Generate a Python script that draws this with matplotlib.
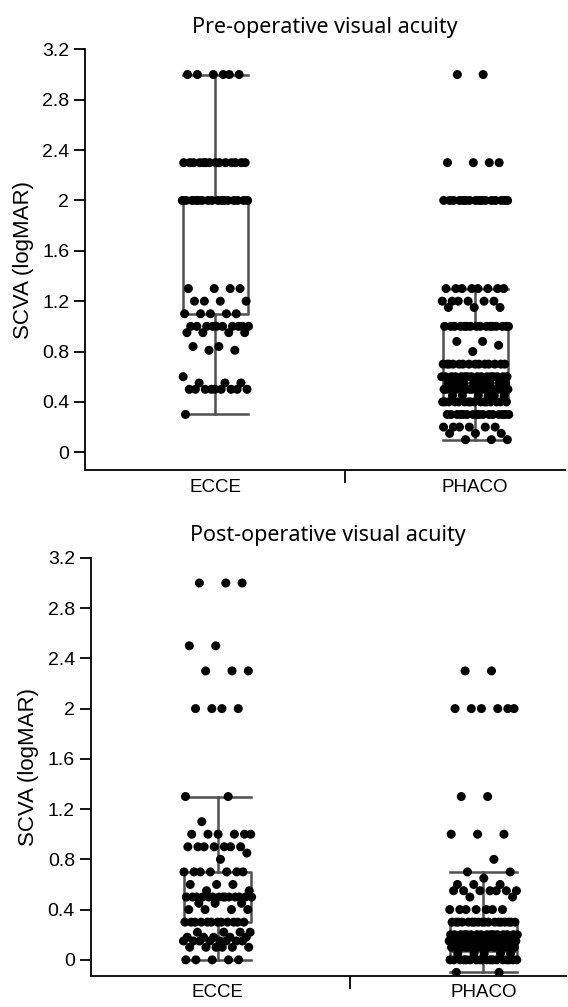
import numpy as np
import matplotlib
matplotlib.use('Agg')
import matplotlib.pyplot as plt

groups = ['ECCE', 'PHACO']
yticks = [0, 0.4, 0.8, 1.2, 1.6, 2, 2.4, 2.8, 3.2]
ytick_labels = ['0', '0.4', '0.8', '1.2', '1.6', '2', '2.4', '2.8', '3.2']

# pre-operative: distinct logMAR values and how many eyes had each
pre_ecce_vals = [3.0, 2.3, 2.0, 1.3, 1.2, 1.1, 1.0, 0.95, 0.84, 0.81, 0.6, 0.55, 0.5, 0.3]
pre_ecce_counts = [6, 14, 16, 4, 4, 5, 10, 4, 2, 2, 1, 3, 9, 1]
pre_phaco_vals = [3.0, 2.3, 2.0, 1.3, 1.2, 1.15, 1.0, 0.88, 0.85, 0.8, 0.7, 0.6, 0.55, 0.5,
                  0.45, 0.4, 0.3, 0.2, 0.15, 0.1]
pre_phaco_counts = [2, 4, 16, 8, 6, 3, 16, 2, 1, 1, 14, 16, 10, 16, 6, 16, 16, 6, 3, 3]

# post-operative
post_ecce_vals = [3.0, 2.5, 2.3, 2.0, 1.3, 1.1, 1.0, 0.9, 0.85, 0.8, 0.7, 0.6, 0.55, 0.5,
                  0.45, 0.4, 0.3, 0.22, 0.18, 0.15, 0.1, 0.0]
post_ecce_counts = [3, 2, 3, 4, 2, 1, 6, 7, 1, 1, 7, 3, 2, 14, 3, 4, 12, 4, 5, 8, 6, 5]
post_phaco_vals = [2.3, 2.0, 1.3, 1.0, 0.8, 0.7, 0.65, 0.6, 0.55, 0.5, 0.4, 0.3, 0.2, 0.15,
                   0.1, 0.05, 0.0, -0.1]
post_phaco_counts = [2, 6, 2, 3, 1, 2, 1, 3, 7, 2, 7, 18, 16, 20, 14, 5, 18, 2]

# box statistics: whislo, q1, median, q3, whishi
pre_stats = [(0.3, 1.1, 2.0, 2.0, 3.0), (0.1, 0.4, 0.55, 1.0, 1.3)]
post_stats = [(0.0, 0.3, 0.49, 0.7, 1.3), (-0.1, 0.0, 0.07, 0.3, 0.7)]

plt.rcParams['font.family'] = ['Liberation Sans', 'DejaVu Sans']

fig = plt.figure(figsize=(5.68, 10.07), dpi=100)
ax_pre = fig.add_axes([0.150, 0.533, 0.845, 0.418])
ax_post = fig.add_axes([0.160, 0.031, 0.836, 0.415])

golden = 0.6180339887


def jitter_points(vals, counts, pos, half=0.13):
    xs, ys = [], []
    k = 0
    for v, n in zip(vals, counts):
        for i in range(n):
            k += 1
            frac = (k * golden) % 1.0
            xs.append(pos - half + 2 * half * frac)
            ys.append(v)
    return xs, ys


def draw_panel(ax, title, stats, data, ylim, xlim):
    boxes = []
    for label, (lo, q1, med, q3, hi) in zip(groups, stats):
        boxes.append({'label': label, 'whislo': lo, 'q1': q1, 'med': med,
                      'q3': q3, 'whishi': hi, 'fliers': []})
    gray = '#505050'
    ax.bxp(boxes, positions=[1, 2], widths=0.25, showfliers=False,
           boxprops=dict(color=gray, linewidth=1.8),
           whiskerprops=dict(color=gray, linewidth=1.8),
           capprops=dict(color=gray, linewidth=1.8),
           medianprops=dict(color=gray, linewidth=1.8),
           capwidths=0.25, zorder=1)
    for pos, (vals, counts) in zip([1, 2], data):
        xs, ys = jitter_points(vals, counts, pos)
        ax.scatter(xs, ys, s=42, color='black', edgecolors='none', zorder=3)

    ax.set_xlim(*xlim)
    ax.set_ylim(*ylim)
    ax.set_yticks(yticks)
    ax.set_yticklabels(ytick_labels, fontsize=14)
    ax.set_xticks([1.5])
    ax.set_xticklabels([''])
    ax.set_xticks([1, 2], minor=True)
    ax.set_xticklabels(groups, minor=True, fontsize=13.5)
    ax.tick_params(axis='x', which='minor', length=0, pad=6)
    ax.tick_params(axis='x', which='major', length=9, width=1.3)
    ax.tick_params(axis='y', length=8, width=1.3)
    ax.spines['top'].set_visible(False)
    ax.spines['right'].set_visible(False)
    ax.spines['left'].set_linewidth(1.3)
    ax.spines['bottom'].set_linewidth(1.3)
    ax.set_ylabel('SCVA (logMAR)', fontsize=16, labelpad=6)
    ax.set_title(title, fontsize=15.5, family=['Noto Sans', 'DejaVu Sans'], pad=12)


draw_panel(ax_pre, 'Pre-operative visual acuity', pre_stats,
           [(pre_ecce_vals, pre_ecce_counts), (pre_phaco_vals, pre_phaco_counts)],
           (-0.143, 3.2), (0.5, 2.346))
draw_panel(ax_post, 'Post-operative visual acuity', post_stats,
           [(post_ecce_vals, post_ecce_counts), (post_phaco_vals, post_phaco_counts)],
           (-0.127, 3.2), (0.523, 2.31))

fig.savefig('out.png', dpi=100)
